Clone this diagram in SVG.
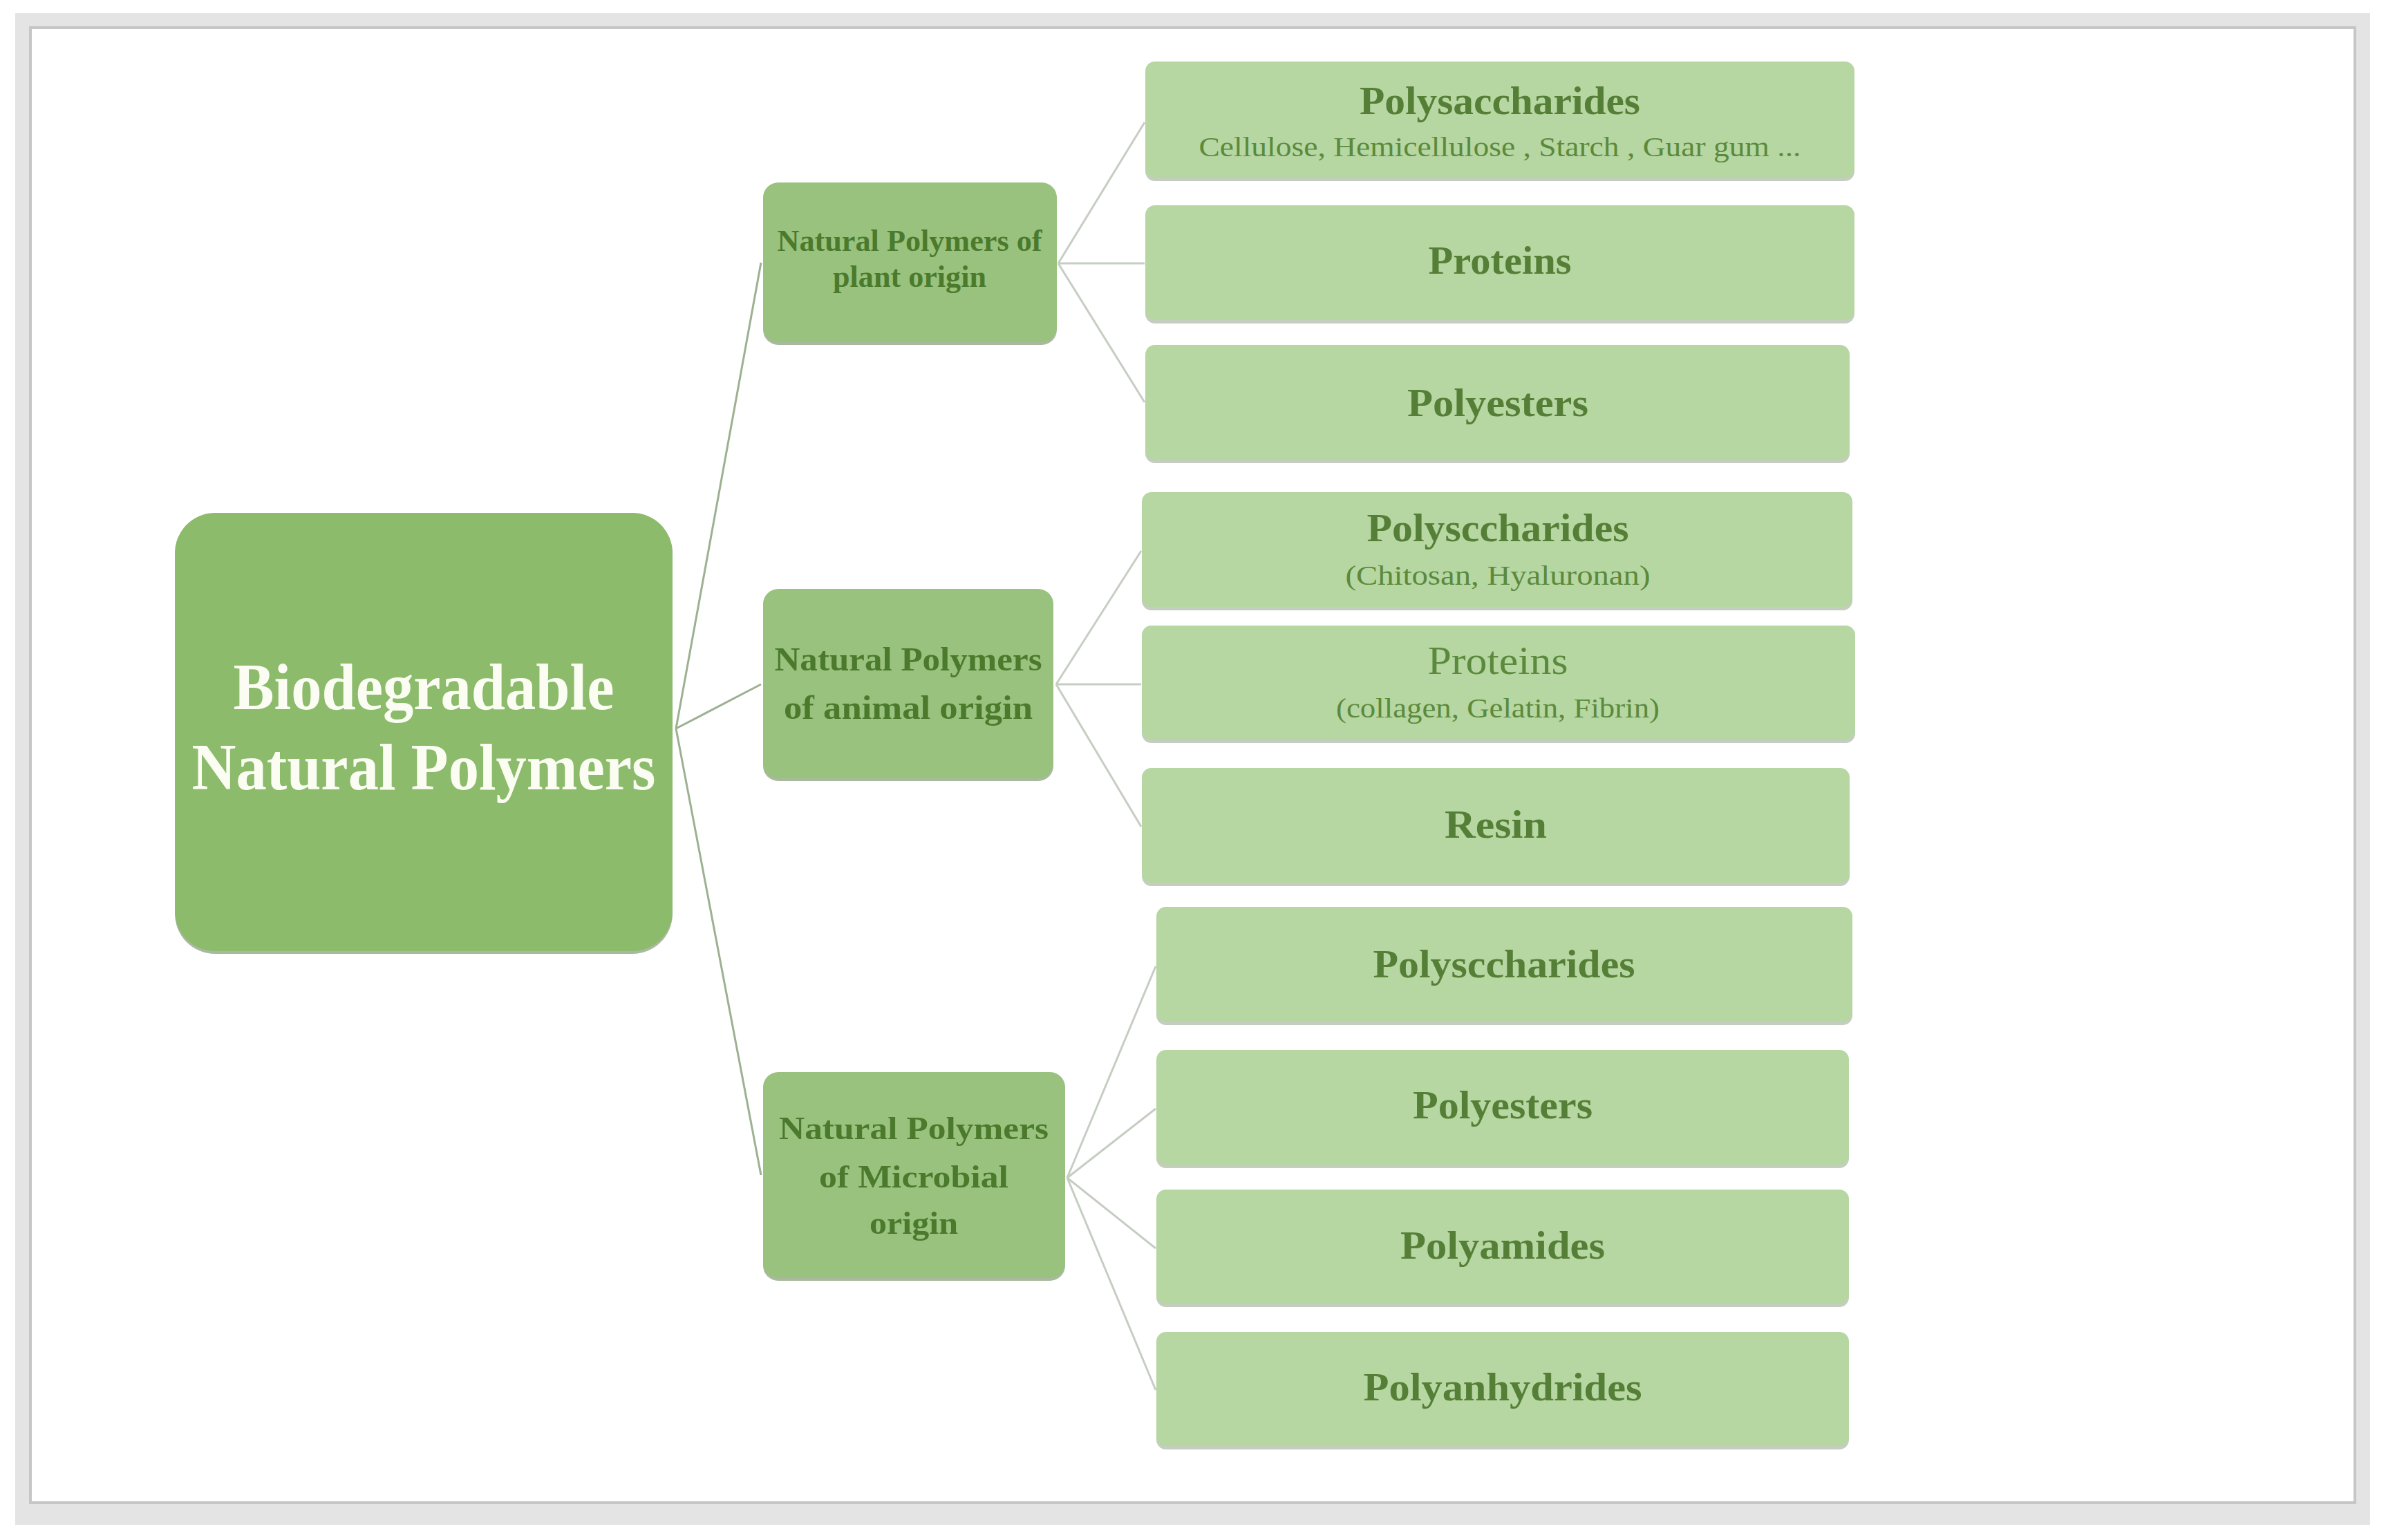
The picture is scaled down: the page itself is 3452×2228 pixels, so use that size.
<svg xmlns="http://www.w3.org/2000/svg" width="3452" height="2228" viewBox="0 0 3452 2228">
<style>
.frame-out{fill:#e4e4e4}
.frame-in{fill:#ffffff;stroke:#c6c6c6;stroke-width:4}
.root{fill:#8cbb6c}
.mid{fill:#98c27d}
.leaf{fill:#b6d6a2}
.sh-mid{fill:#a9b99f}
.sh-leaf{fill:#c4cdbf}
.c1{stroke:#9db192;stroke-width:3;fill:none}
.c2{stroke:#c6cec3;stroke-width:3;fill:none}
text{font-family:"Liberation Serif","Times New Roman",serif;text-anchor:middle}
.rt{fill:#fbfdf3;font-weight:bold;font-size:96px}
.mt{fill:#4b7a2d;font-weight:bold}
.lt{fill:#557f36;font-weight:bold;font-size:56px}
.lr{fill:#5b8a3c;font-size:56px}
.st{fill:#5b8a3c;font-size:40px}
</style>
<rect class="frame-out" x="22" y="19" width="3407" height="2187"/>
<rect class="frame-in" x="44" y="40" width="3363" height="2134"/>
<g id="connectors">
<line class="c1" x1="978" y1="1054" x2="1101" y2="380"/>
<line class="c1" x1="978" y1="1054" x2="1101" y2="990"/>
<line class="c1" x1="978" y1="1054" x2="1101" y2="1700"/>
<line class="c2" x1="1531" y1="381" x2="1656" y2="177"/>
<line class="c2" x1="1531" y1="381" x2="1656" y2="381"/>
<line class="c2" x1="1531" y1="381" x2="1656" y2="582"/>
<line class="c2" x1="1528" y1="990" x2="1651" y2="797"/>
<line class="c2" x1="1528" y1="990" x2="1651" y2="990"/>
<line class="c2" x1="1528" y1="990" x2="1651" y2="1196"/>
<line class="c2" x1="1544" y1="1704" x2="1672" y2="1398"/>
<line class="c2" x1="1544" y1="1704" x2="1672" y2="1604"/>
<line class="c2" x1="1544" y1="1704" x2="1672" y2="1806"/>
<line class="c2" x1="1544" y1="1704" x2="1672" y2="2011"/>
</g>
<g id="root">
<rect class="sh-mid" x="253" y="746" width="720" height="634" rx="58"/>
<rect class="root" x="253" y="742" width="720" height="634" rx="58"/>
<text class="rt" x="613" y="1026" textLength="551" lengthAdjust="spacingAndGlyphs">Biodegradable</text>
<text class="rt" x="613" y="1142" textLength="671" lengthAdjust="spacingAndGlyphs">Natural Polymers</text>
</g>
<g id="plant">
<rect class="sh-mid" x="1104" y="268" width="425" height="231" rx="22"/>
<rect class="mid" x="1104" y="264" width="425" height="231" rx="22"/>
<text class="mt" x="1316" y="363" font-size="44" textLength="383" lengthAdjust="spacingAndGlyphs">Natural Polymers of</text>
<text class="mt" x="1316" y="415" font-size="44" textLength="222" lengthAdjust="spacingAndGlyphs">plant origin</text>
</g>
<g id="animal">
<rect class="sh-mid" x="1104" y="856" width="420" height="274" rx="22"/>
<rect class="mid" x="1104" y="852" width="420" height="274" rx="22"/>
<text class="mt" x="1314" y="970" font-size="48" textLength="387" lengthAdjust="spacingAndGlyphs">Natural Polymers</text>
<text class="mt" x="1314" y="1040" font-size="48" textLength="360" lengthAdjust="spacingAndGlyphs">of animal origin</text>
</g>
<g id="microbial">
<rect class="sh-mid" x="1104" y="1555" width="437" height="298" rx="22"/>
<rect class="mid" x="1104" y="1551" width="437" height="298" rx="22"/>
<text class="mt" x="1322" y="1648" font-size="46" textLength="390" lengthAdjust="spacingAndGlyphs">Natural Polymers</text>
<text class="mt" x="1322" y="1718" font-size="46" textLength="274" lengthAdjust="spacingAndGlyphs">of Microbial</text>
<text class="mt" x="1322" y="1785" font-size="46" textLength="128" lengthAdjust="spacingAndGlyphs">origin</text>
</g>
<g id="plant-polysaccharides">
<rect class="sh-leaf" x="1657" y="94" width="1026" height="168" rx="14"/>
<rect class="leaf" x="1657" y="89" width="1026" height="168" rx="14"/>
<text class="lt" x="2170" y="165" textLength="406" lengthAdjust="spacingAndGlyphs">Polysaccharides</text>
<text class="st" x="2170" y="226" textLength="871" lengthAdjust="spacingAndGlyphs">Cellulose, Hemicellulose , Starch , Guar gum ...</text>
</g>
<g id="plant-proteins">
<rect class="sh-leaf" x="1657" y="302" width="1026" height="166" rx="14"/>
<rect class="leaf" x="1657" y="297" width="1026" height="166" rx="14"/>
<text class="lt" x="2170" y="396" textLength="207" lengthAdjust="spacingAndGlyphs">Proteins</text>
</g>
<g id="plant-polyesters">
<rect class="sh-leaf" x="1657" y="504" width="1019" height="166" rx="14"/>
<rect class="leaf" x="1657" y="499" width="1019" height="166" rx="14"/>
<text class="lt" x="2167" y="602" textLength="262" lengthAdjust="spacingAndGlyphs">Polyesters</text>
</g>
<g id="animal-polysaccharides">
<rect class="sh-leaf" x="1652" y="717" width="1028" height="166" rx="14"/>
<rect class="leaf" x="1652" y="712" width="1028" height="166" rx="14"/>
<text class="lt" x="2167" y="783" textLength="379" lengthAdjust="spacingAndGlyphs">Polysccharides</text>
<text class="st" x="2167" y="846" textLength="441" lengthAdjust="spacingAndGlyphs">(Chitosan, Hyaluronan)</text>
</g>
<g id="animal-proteins">
<rect class="sh-leaf" x="1652" y="910" width="1032" height="165" rx="14"/>
<rect class="leaf" x="1652" y="905" width="1032" height="165" rx="14"/>
<text class="lr" x="2167" y="975" textLength="203" lengthAdjust="spacingAndGlyphs">Proteins</text>
<text class="st" x="2167" y="1038" textLength="468" lengthAdjust="spacingAndGlyphs">(collagen, Gelatin, Fibrin)</text>
</g>
<g id="animal-resin">
<rect class="sh-leaf" x="1652" y="1116" width="1024" height="166" rx="14"/>
<rect class="leaf" x="1652" y="1111" width="1024" height="166" rx="14"/>
<text class="lt" x="2164" y="1212" textLength="148" lengthAdjust="spacingAndGlyphs">Resin</text>
</g>
<g id="microbial-polysaccharides">
<rect class="sh-leaf" x="1673" y="1317" width="1007" height="166" rx="14"/>
<rect class="leaf" x="1673" y="1312" width="1007" height="166" rx="14"/>
<text class="lt" x="2176" y="1414" textLength="379" lengthAdjust="spacingAndGlyphs">Polysccharides</text>
</g>
<g id="microbial-polyesters">
<rect class="sh-leaf" x="1673" y="1524" width="1002" height="166" rx="14"/>
<rect class="leaf" x="1673" y="1519" width="1002" height="166" rx="14"/>
<text class="lt" x="2174" y="1618" textLength="260" lengthAdjust="spacingAndGlyphs">Polyesters</text>
</g>
<g id="microbial-polyamides">
<rect class="sh-leaf" x="1673" y="1726" width="1002" height="165" rx="14"/>
<rect class="leaf" x="1673" y="1721" width="1002" height="165" rx="14"/>
<text class="lt" x="2174" y="1821" textLength="296" lengthAdjust="spacingAndGlyphs">Polyamides</text>
</g>
<g id="microbial-polyanhydrides">
<rect class="sh-leaf" x="1673" y="1932" width="1002" height="165" rx="14"/>
<rect class="leaf" x="1673" y="1927" width="1002" height="165" rx="14"/>
<text class="lt" x="2174" y="2026" textLength="403" lengthAdjust="spacingAndGlyphs">Polyanhydrides</text>
</g>
</svg>
